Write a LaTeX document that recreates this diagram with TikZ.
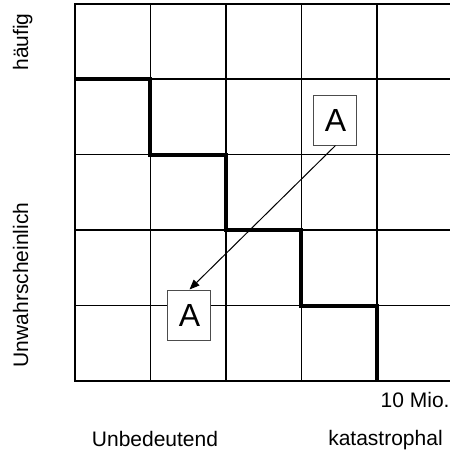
\documentclass[tikz,border=0pt]{standalone}
\usepackage{fontspec}
\setmainfont{Liberation Sans}
\usetikzlibrary{arrows.meta, positioning}

\begin{document}
\begin{tikzpicture}[
  x=0.5pt, y=-0.5pt,
  cellline/.style={line width=0.65pt, draw=black},
  frame/.style={line width=1pt, draw=black},
  limit/.style={line width=2pt, draw=black},
  riskbox/.style={draw=black!70, line width=0.5pt, fill=white, minimum width=21.5pt, minimum height=25pt, inner sep=0pt, font=\fontsize{16}{18}\selectfont},
  axislabel/.style={font=\fontsize{10.5}{12}\selectfont, inner sep=0pt},
  moveline/.style={line width=0.5pt, -{Triangle[length=5pt, width=4pt]}}
  ]

  \useasboundingbox (0,0) rectangle (450,452);
  \clip (0,0) rectangle (450,452);

  % Grid
  \foreach \i in {1,...,4} {
    \draw[cellline] (75+75.5*\i,3.5) -- (75+75.5*\i,381);
    \draw[cellline] (75,3.5+75.5*\i) -- (452.5,3.5+75.5*\i);
  }
  \draw[frame] (75,3.5) rectangle (452.5,381);

  % Acceptance limit
  \draw[limit] (75,79) -- (150.5,79) -- (150.5,154.5) -- (226,154.5) -- (226,230)
    -- (301.5,230) -- (301.5,305.5) -- (377,305.5) -- (377,381);

  % Risk before and after
  \node[riskbox] (aHigh) at (335.5,120) {A};
  \node[riskbox] (aLow) at (189.5,315) {A};
  \draw[moveline] (aHigh.south) -- (aLow.north);

  % Axis labels
  \node[axislabel, rotate=90, anchor=base] (frequent) at (28,42) {häufig};
  \node[axislabel, rotate=90, anchor=base] (unlikely) at (28,285) {Unwahrscheinlich};
  \node[axislabel, anchor=base east] (amount) at (450,407) {10 Mio.};
  \node[axislabel, anchor=base] (minor) at (155,446) {Unbedeutend};
  \node[axislabel, anchor=base] (severe) at (385.5,445) {katastrophal};

\end{tikzpicture}
\end{document}
